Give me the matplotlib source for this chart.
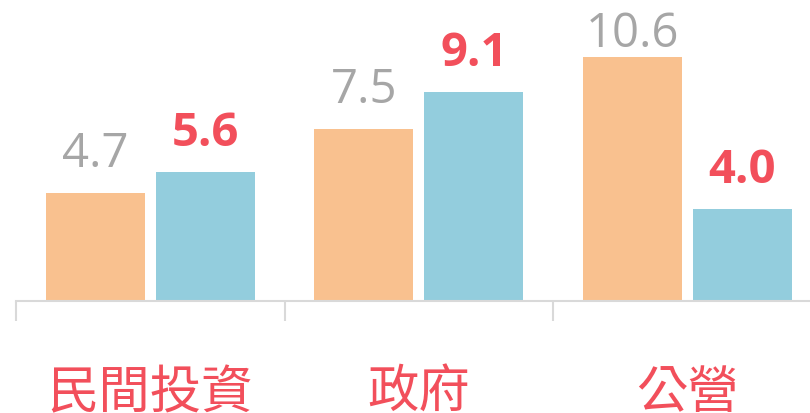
import matplotlib.pyplot as plt
import numpy as np

categories = ['民間投資', '政府', '公營']
series_a = [4.7, 7.5, 10.6]
series_b = [5.6, 9.1, 4.0]

orange = '#F9C18F'
blue = '#93CDDD'
red = '#F24F5B'
gray = '#A6A6A6'

fig = plt.figure(figsize=(8.1, 4.13), dpi=100)
ax = fig.add_axes([16 / 810, 112 / 413, 794 / 810, 301 / 413])

x = np.arange(len(categories))
w = 0.369
off = 0.205
ymax = 13.09
px = ymax / 301  # data units per pixel

bars_a = ax.bar(x - off, series_a, w, color=orange)
bars_b = ax.bar(x + off, series_b, w, color=blue)


def label(bars, **kw):
    for bar in bars:
        h = bar.get_height()
        # baseline 26px above bar, but kept inside the plot area
        y = min(h + 26 * px, ymax - 47 * px)
        ax.text(bar.get_x() + bar.get_width() / 2, y, f'{h:.1f}',
                ha='center', va='baseline', fontsize=34, family='Open Sans', **kw)


label(bars_a, color=gray)
label(bars_b, color=red, fontweight='bold')

ax.set_xlim(-0.5, 2.5 - 11.5 / 268.5)
ax.set_ylim(0, ymax)

for s in ['top', 'right', 'left']:
    ax.spines[s].set_visible(False)
ax.spines['bottom'].set_color('#D9D9D9')
ax.spines['bottom'].set_linewidth(1.5)
ax.set_yticks([])

ax.set_xticks(x)
ax.set_xticklabels(categories, fontsize=37, color=red,
                   family=['Noto Sans CJK TC', 'DejaVu Sans'])
ax.tick_params(axis='x', which='major', length=0, pad=47)
ax.set_xticks([-0.5, 0.5, 1.5], minor=True)
ax.tick_params(axis='x', which='minor', length=14.5, width=1.5, color='#D9D9D9')

fig.savefig('out.png', dpi=100)
